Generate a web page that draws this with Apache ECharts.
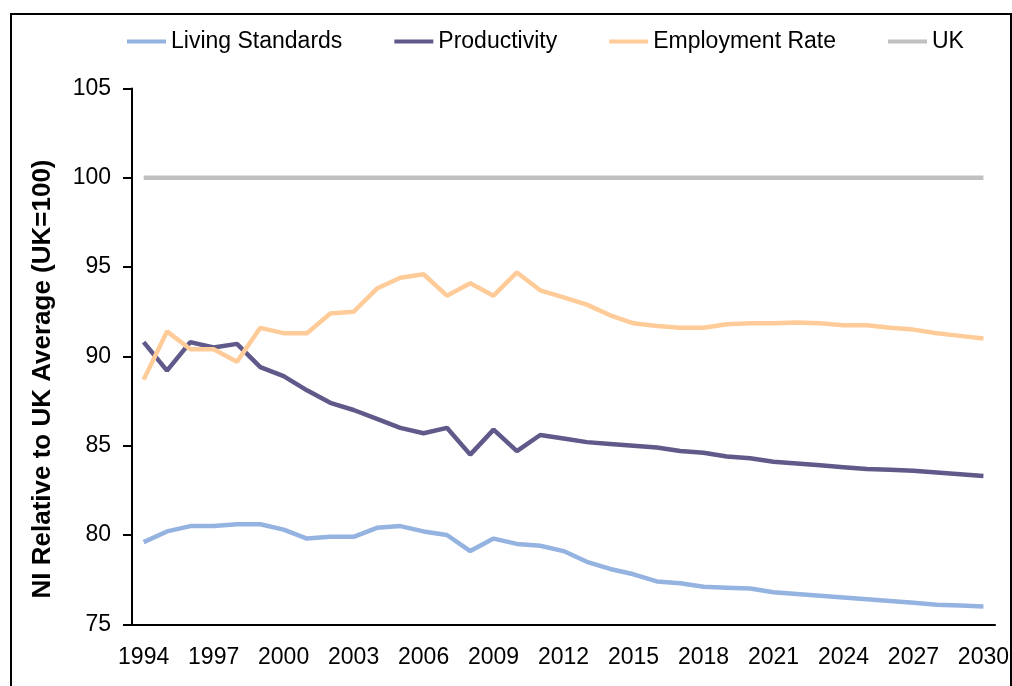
<!DOCTYPE html>
<html>
<head>
<meta charset="utf-8">
<script src="https://cdn.jsdelivr.net/npm/echarts@6/dist/echarts.min.js"></script>
<style>
    html, body { margin: 0; padding: 0; background: #fff; }
    #chart { width: 1012px; height: 686px; }
</style>
</head>
<body>
<div id="chart"></div>
<script>
    // years on the category axis
    var years = [];
    for (var y = 1994; y <= 2030; y++) {
        years.push(String(y));
    }

    // values (UK = 100)
    var livingStandards = [79.6, 80.2, 80.5, 80.5, 80.6, 80.6, 80.3, 79.8, 79.9, 79.9,
        80.4, 80.5, 80.2, 80.0, 79.1, 79.8, 79.5, 79.4, 79.1, 78.5,
        78.1, 77.8, 77.4, 77.3, 77.1, 77.05, 77.0, 76.8, 76.7, 76.6,
        76.5, 76.4, 76.3, 76.2, 76.1, 76.05, 76.0];
    var productivity = [90.8, 89.2, 90.8, 90.5, 90.7, 89.4, 88.9, 88.1, 87.4, 87.0,
        86.5, 86.0, 85.7, 86.0, 84.5, 85.9, 84.7, 85.6, 85.4, 85.2,
        85.1, 85.0, 84.9, 84.7, 84.6, 84.4, 84.3, 84.1, 84.0, 83.9,
        83.8, 83.7, 83.65, 83.6, 83.5, 83.4, 83.3];
    var employmentRate = [88.7, 91.4, 90.4, 90.4, 89.7, 91.6, 91.3, 91.3, 92.4, 92.5,
        93.8, 94.4, 94.6, 93.4, 94.1, 93.4, 94.7, 93.7, 93.3, 92.9,
        92.3, 91.85, 91.7, 91.6, 91.6, 91.8, 91.85, 91.85, 91.9, 91.85,
        91.75, 91.75, 91.6, 91.5, 91.3, 91.15, 91.0];
    var uk = [];
    for (var i = 0; i < years.length; i++) {
        uk.push(100);
    }

    var yTicks = [75, 80, 85, 90, 95, 100, 105];

    var fontName = '"Liberation Sans", Arial, sans-serif';

    var chart = echarts.init(document.getElementById('chart'));

    function lineSeries(name, data, color) {
        return {
            name: name,
            type: 'line',
            data: data,
            showSymbol: false,
            symbol: 'none',
            lineStyle: {width: 4.5, color: color},
            itemStyle: {color: color},
            emphasis: {disabled: true}
        };
    }

    chart.setOption({
        animation: false,
        backgroundColor: '#fff',
        textStyle: {fontFamily: fontName},
        legend: {
            left: 127,
            top: 30,
            padding: 0,
            icon: 'rect',
            itemWidth: 39,
            itemHeight: 4,
            itemGap: 52,
            textStyle: {fontSize: 23, color: '#000', fontFamily: fontName},
            data: ['Living Standards', 'Productivity', 'Employment Rate', 'UK']
        },
        grid: {
            left: 132,
            right: 16,
            top: 88.5,
            bottom: 61.7
        },
        xAxis: {
            type: 'category',
            boundaryGap: true,
            data: years,
            axisLine: {lineStyle: {color: '#000', width: 2}},
            axisTick: {interval: 0, length: 7, lineStyle: {color: '#000', width: 2}},
            axisLabel: {
                interval: 2,
                fontSize: 23,
                color: '#000',
                margin: 22,
                fontFamily: fontName
            },
            splitLine: {show: false}
        },
        yAxis: {
            type: 'value',
            min: yTicks[0],
            max: yTicks[yTicks.length - 1],
            interval: 5,
            axisLine: {show: true, lineStyle: {color: '#000', width: 2}},
            axisTick: {show: true, length: 9, lineStyle: {color: '#000', width: 2}},
            axisLabel: {
                fontSize: 23,
                color: '#000',
                margin: 21,
                fontFamily: fontName
            },
            splitLine: {show: false}
        },
        graphic: [
            {
                // outer chart frame
                type: 'rect',
                shape: {x: 11, y: 14, width: 1000, height: 690},
                style: {fill: 'none', stroke: '#000', lineWidth: 2},
                silent: true
            },
            {
                type: 'text',
                x: 43,
                y: 379,
                rotation: Math.PI / 2,
                style: {
                    text: 'NI Relative to UK Average (UK=100)',
                    fontSize: 26,
                    fontWeight: 'bold',
                    fontFamily: fontName,
                    fill: '#000',
                    textAlign: 'center',
                    textVerticalAlign: 'middle'
                }
            }
        ],
        series: [
            lineSeries('Living Standards', livingStandards, '#95B3E0'),
            lineSeries('Productivity', productivity, '#5F5A8A'),
            lineSeries('Employment Rate', employmentRate, '#FFCC99'),
            lineSeries('UK', uk, '#C0C0C0')
        ]
    });
</script>
</body>
</html>
